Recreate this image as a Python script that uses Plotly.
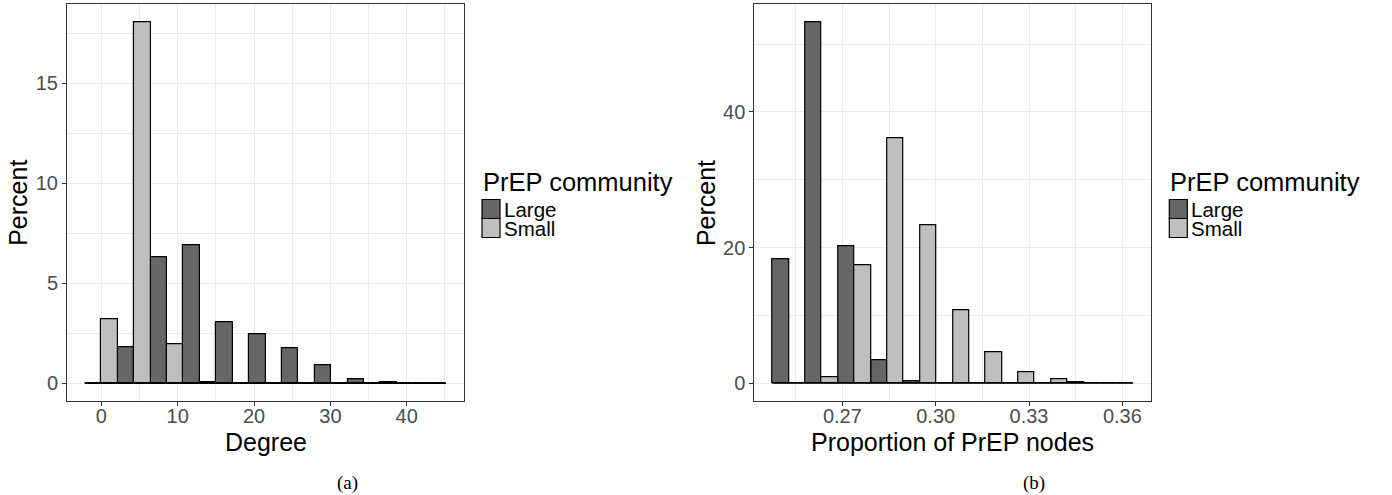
import plotly.graph_objects as go

# ---------------- data ----------------
groups = ["Large", "Small"]
group_colors = ["#666666", "#BFBFBF"]

degree_bins = [0, 4.3, 8.6, 12.9, 17.2, 21.5, 25.8, 30.1, 34.4, 38.7, 43.0]
degree_large = [0, 1.78, 6.28, 6.9, 3.03, 2.47, 1.75, 0.88, 0.18, 0.04, 0.015]
degree_small = [3.2, 18.05, 1.95, 0.05, 0, 0, 0, 0, 0, 0, 0]

prop_bins = [0.2528, 0.2633, 0.2739, 0.2844, 0.2950, 0.3055,
             0.3160, 0.3266, 0.3371, 0.3477, 0.3582]
prop_large = [18.28, 53.2, 20.15, 3.39, 0.3, 0, 0, 0, 0, 0.15, 0]
prop_small = [0, 0.84, 17.35, 36.07, 23.24, 10.76, 4.57, 1.62, 0.64, 0, 0.05]

degree_ticks = [0, 10, 20, 30, 40]
prop_ticks = [0.27, 0.30, 0.33, 0.36]

legend_title = "PrEP community"
captions = ["(a)", "(b)"]
x_titles = ["Degree", "Proportion of PrEP nodes"]
y_title = "Percent"

# ---------------- layout helpers ----------------
W, H = 1392, 495
FONT = "Liberation Sans"


def px(x):
    return x / W


def py(y):
    return 1 - y / H


panel_left = [67, 754.3]
panel_width = 397
plot_top, plot_bottom = 4.3, 401.3

fig = go.Figure()

panels = [
    (degree_bins, degree_large, degree_small, "x", "y"),
    (prop_bins, prop_large, prop_small, "x2", "y2"),
]

for bins, large, small, xa, ya in panels:
    for name, vals, col in zip(groups, [large, small], group_colors):
        fig.add_trace(go.Bar(
            x=bins, y=vals, name=name, xaxis=xa, yaxis=ya,
            marker=dict(color=col, line=dict(color="black", width=1.2)),
            showlegend=False,
        ))
    half = (bins[1] - bins[0]) / 2
    fig.add_trace(go.Scatter(
        x=[bins[0] - half, bins[-1] + half], y=[0, 0], mode="lines",
        line=dict(color="black", width=1.2), xaxis=xa, yaxis=ya,
        showlegend=False, hoverinfo="skip",
    ))

grid = "#EBEBEB"
frame = "#333333"
tickfont = dict(family=FONT, size=20, color="#4D4D4D")

common = dict(
    showline=True, mirror=True, linecolor=frame, linewidth=1,
    ticks="outside", ticklen=4, tickcolor=frame, tickwidth=1,
    showgrid=True, gridcolor=grid, gridwidth=1.1, zeroline=False,
    tickfont=tickfont,
)

fig.update_layout(
    width=W, height=H,
    margin=dict(l=0, r=0, t=0, b=0),
    paper_bgcolor="white", plot_bgcolor="white",
    barmode="group", bargap=0, bargroupgap=0,
    font=dict(family=FONT),
    xaxis=dict(domain=[px(panel_left[0]), px(panel_left[0] + panel_width)],
               range=[-4.5, 47.5], tickvals=degree_ticks, anchor="y",
               ticklabelstandoff=-7,
               minor=dict(dtick=5, tick0=0, showgrid=True, gridcolor=grid, gridwidth=0.6),
               **common),
    yaxis=dict(domain=[py(plot_bottom), py(plot_top)], range=[-0.9, 18.95],
               dtick=5, tick0=0, anchor="x",
               minor=dict(dtick=2.5, tick0=0, showgrid=True, gridcolor=grid, gridwidth=0.6),
               **common),
    xaxis2=dict(domain=[px(panel_left[1]), px(panel_left[1] + panel_width)],
                range=[0.2417, 0.3693], tickvals=prop_ticks, tickformat=".2f", anchor="y2",
                ticklabelstandoff=-7,
                minor=dict(dtick=0.015, tick0=0.255, showgrid=True, gridcolor=grid, gridwidth=0.6),
                **common),
    yaxis2=dict(domain=[py(plot_bottom), py(plot_top)], range=[-2.66, 55.86],
                dtick=20, tick0=0, anchor="x2",
                minor=dict(dtick=10, tick0=0, showgrid=True, gridcolor=grid, gridwidth=0.6),
                **common),
)

annotations = []
shapes = []
for i, left in enumerate(panel_left):
    off = left - panel_left[0]
    center = left + panel_width / 2
    # axis titles
    annotations.append(dict(text=x_titles[i], x=px(center), y=py(442), xref="paper", yref="paper",
                            xanchor="center", yanchor="middle", showarrow=False,
                            font=dict(family=FONT, size=25, color="black")))
    annotations.append(dict(text=y_title, x=px(18 + off), y=py((plot_top + plot_bottom) / 2),
                            xref="paper", yref="paper", xanchor="center", yanchor="middle",
                            textangle=-90, showarrow=False,
                            font=dict(family=FONT, size=25, color="black")))
    # captions
    annotations.append(dict(text=captions[i], x=px(347 + off), y=py(483), xref="paper", yref="paper",
                            xanchor="center", yanchor="middle", showarrow=False,
                            font=dict(family="Liberation Serif", size=19, color="black")))
    # legend
    annotations.append(dict(text=legend_title, x=px(481 + off), y=py(181.5), xref="paper", yref="paper",
                            xanchor="left", yanchor="middle", showarrow=False,
                            font=dict(family=FONT, size=25.5, color="black")))
    for j, (name, col) in enumerate(zip(groups, group_colors)):
        y0 = 199.5 + j * 19
        shapes.append(dict(type="rect", xref="paper", yref="paper",
                           x0=px(482 + off), x1=px(500 + off), y0=py(y0), y1=py(y0 + 19),
                           fillcolor=col, line=dict(color="black", width=1.2)))
        annotations.append(dict(text=name, x=px(503 + off), y=py(y0 + 9.5), xref="paper", yref="paper",
                                xanchor="left", yanchor="middle", showarrow=False, borderpad=0,
                                font=dict(family=FONT, size=20.5, color="black")))

fig.update_layout(annotations=annotations, shapes=shapes)

fig.write_html("out.html")
